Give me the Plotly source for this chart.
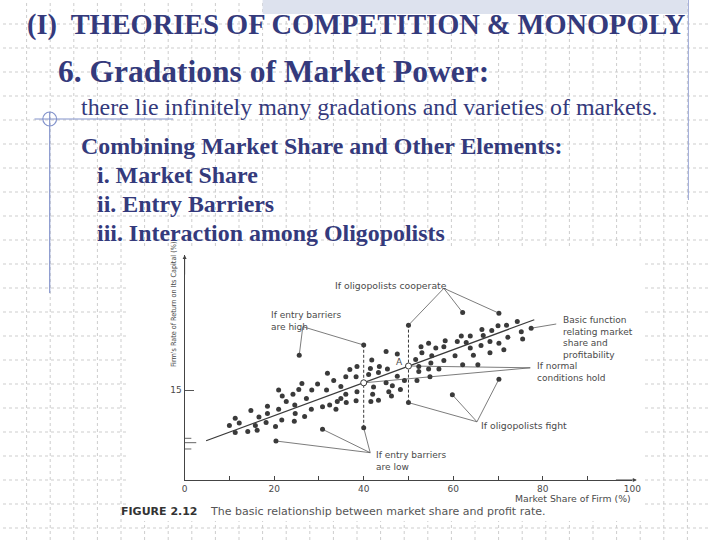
import plotly.graph_objects as go

# ---------------- data (market share %, rate of return %) ----------------
share = [11.3, 12.2, 10.0, 11.3, 14.1, 15.8, 16.2, 14.8, 16.6, 18.5,
         18.5, 18.2, 20.3, 21.0, 21.7, 21.0, 21.8, 22.7, 24.6, 24.7,
         24.5, 24.2, 25.5, 26.2, 26.8, 27.2, 28.3, 28.4, 29.7, 30.8,
         31.7, 31.9, 32.4, 33.3, 33.8, 34.1, 34.9, 34.9, 36.0, 36.0,
         36.1, 36.9, 38.5, 38.3, 38.5, 38.3,
         45.0, 47.5, 41.8, 52.8, 54.5, 56.1, 58.2, 57.9, 60.9, 61.8,
         63.8, 62.9, 63.8, 66.4, 68.6, 66.7, 68.2, 66.2, 53.0, 51.6,
         55.2, 60.4, 57.9, 64.5, 68.2, 41.5, 43.5, 45.3, 41.1, 43.3,
         52.3, 52.3, 54.5, 56.8, 55.0, 62.1, 65.5, 47.5, 45.0, 49.1,
         51.9, 54.8, 42.2, 46.4, 48.2, 45.6, 42.0, 46.2, 41.6, 43.3,
         74.3, 71.9, 70.0, 75.2, 77.4, 72.2, 75.5, 70.2, 71.3]
profit = [10.3, 9.5, 9.1, 7.9, 8.1, 9.1, 8.3, 11.6, 10.5, 12.3,
          11.1, 9.6, 8.9, 11.8, 10.0, 15.0, 14.0, 13.1, 12.5, 11.1,
          9.8, 14.3, 15.1, 16.1, 10.6, 13.6, 11.8, 15.0, 16.0, 12.2,
          15.0, 17.8, 12.5, 16.6, 11.8, 13.1, 15.6, 13.6, 17.2, 14.3,
          12.9, 18.4, 18.9, 17.2, 14.7, 13.2,
          21.4, 21.0, 20.0, 22.2, 22.8, 22.0, 23.2, 22.2, 23.1, 24.0,
          24.0, 22.9, 22.0, 25.1, 24.9, 24.1, 23.1, 22.4, 21.2, 20.1,
          20.7, 20.7, 19.9, 20.8, 21.2, 18.6, 18.9, 18.5, 17.6, 17.9,
          18.9, 18.1, 18.5, 18.5, 19.5, 19.2, 19.2, 17.3, 16.2, 16.6,
          16.6, 17.2, 15.5, 15.7, 15.1, 14.7, 14.3, 14.0, 13.1, 13.3,
          26.4, 25.8, 25.7, 24.7, 25.3, 23.8, 23.5, 22.8, 21.7]

basic_x = [4.8, 78.1]
basic_y = [6.55, 26.7]

open_x = [40, 50]
open_y = [16.2, 19.0]

high_x, high_y = [25.6, 40], [20.8, 22.5]
low_x, low_y = [40, 30.8, 20.4], [8.7, 8.45, 6.5]
coop_x, coop_y = [50, 62.1, 70.2], [25.8, 27.9, 27.8]
fight_x, fight_y = [50, 59.8, 70.2], [12.9, 14.2, 16.8]

high_hub = (26.4, 25.55)
low_hub = (41.45, 4.55)
coop_hub = (57.9, 31.95)
fight_hub = (65.3, 9.7)
normal_hub = (77.2, 18.7)
basic_leader_x = [77.4, 83.0]
basic_leader_y = [25.3, 26.0]

dash_x = [40, 50]
dash_lo = [8.7, 12.9]
dash_hi = [22.5, 25.8]

comp_marks_y = [6.95, 6.22, 5.17]
comp_marks_len = [1.5, 2.6, 1.5]

x_ticks = [0, 10, 20, 30, 40, 50, 60, 70, 80, 90, 100]
x_ticktext = ["0", "", "20", "", "40", "", "60", "", "80", "", "100"]
y_ticks = [15]
y_ticktext = ["15"]

# ---------------- layout helpers (pixel -> paper) ----------------
W, H = 720, 540
def px(x):
    return x / W
def py(y):
    return 1 - y / H

NAVY = "#343a7c"
INK = "#3a3a3a"
LEAD = "#5a5a5a"
CH_FONT = "DejaVu Sans, Liberation Sans, sans-serif"

fig = go.Figure()

def leaders(hub, xs, ys):
    lx, ly = [], []
    for x, y in zip(xs, ys):
        lx += [hub[0], x, None]
        ly += [hub[1], y, None]
    return lx, ly

# leader lines
all_lx, all_ly = [], []
for hub, xs, ys in [(high_hub, high_x, high_y), (low_hub, low_x, low_y),
                    (coop_hub, coop_x, coop_y), (fight_hub, fight_x, fight_y),
                    (normal_hub, open_x, open_y)]:
    a, b = leaders(hub, xs, ys)
    all_lx += a
    all_ly += b
all_lx += basic_leader_x + [None]
all_ly += basic_leader_y + [None]
fig.add_trace(go.Scatter(x=all_lx, y=all_ly, mode="lines",
                         line=dict(color=LEAD, width=0.8), hoverinfo="skip"))

# dashed verticals
dx, dy = [], []
for x, lo, hi in zip(dash_x, dash_lo, dash_hi):
    dx += [x, x, None]
    dy += [lo, hi, None]
fig.add_trace(go.Scatter(x=dx, y=dy, mode="lines",
                         line=dict(color=INK, width=1, dash="3px,2px")))

# competitive rate marks
cx, cy = [], []
for y, l in zip(comp_marks_y, comp_marks_len):
    cx += [0, l, None]
    cy += [y, y, None]
fig.add_trace(go.Scatter(x=cx, y=cy, mode="lines",
                         line=dict(color="#666", width=1)))

# basic function line
fig.add_trace(go.Scatter(x=basic_x, y=basic_y, mode="lines",
                         line=dict(color=INK, width=1.2)))

# scatter of firms
fig.add_trace(go.Scatter(x=share, y=profit, mode="markers",
                         marker=dict(size=5, color=INK), cliponaxis=False))
# special points
fig.add_trace(go.Scatter(x=high_x + low_x + coop_x + fight_x,
                         y=high_y + low_y + coop_y + fight_y, mode="markers",
                         marker=dict(size=5, color=INK), cliponaxis=False))
# open circles
fig.add_trace(go.Scatter(x=open_x, y=open_y, mode="markers",
                         marker=dict(size=6, color="white",
                                     line=dict(color=INK, width=1)),
                         cliponaxis=False))

# ---------------- background decoration ----------------
shapes = []
for gx in range(24, 720, 24):
    shapes.append(dict(type="line", xref="paper", yref="paper",
                       x0=px(gx), x1=px(gx), y0=0, y1=1, layer="below",
                       line=dict(color="#cdcdcd", width=1, dash="dot")))
for gy in range(24, 540, 24):
    shapes.append(dict(type="line", xref="paper", yref="paper",
                       x0=0, x1=1, y0=py(gy), y1=py(gy), layer="below",
                       line=dict(color="#cdcdcd", width=1, dash="dot")))
# white picture area
shapes.append(dict(type="rect", xref="paper", yref="paper",
                   x0=px(128), x1=px(651), y0=py(521), y1=py(247),
                   layer="below", fillcolor="white", line=dict(width=0)))
# top band
shapes.append(dict(type="rect", xref="paper", yref="paper",
                   x0=px(264), x1=px(696), y0=py(14), y1=py(0),
                   layer="below", fillcolor="#dde2ee", line=dict(width=0)))
BLUE = "#8494cc"
shapes.append(dict(type="line", xref="paper", yref="paper",
                   x0=px(697), x1=px(697), y0=py(0), y1=py(200),
                   line=dict(color="#9aa7d6", width=1)))
shapes.append(dict(type="line", xref="paper", yref="paper",
                   x0=px(47.5), x1=px(47.5), y0=py(112), y1=py(293),
                   line=dict(color=BLUE, width=1.2)))
shapes.append(dict(type="line", xref="paper", yref="paper",
                   x0=px(32), x1=px(173), y0=py(119), y1=py(119),
                   line=dict(color=BLUE, width=1.2)))
shapes.append(dict(type="circle", xref="paper", yref="paper",
                   x0=px(40.5), x1=px(54.5), y0=py(126), y1=py(112),
                   line=dict(color=BLUE, width=1.2)))

# ---------------- annotations ----------------
ann = []
def slide_text(x, y, text, size, bold=False):
    ann.append(dict(xref="paper", yref="paper", x=px(x), y=py(y), text=text,
                    showarrow=False, xanchor="left", yanchor="middle",
                    font=dict(family="Liberation Serif, Times New Roman, serif",
                              size=size, color=NAVY,
                              weight="bold" if bold else "normal")))

slide_text(22, 25, "(I)  THEORIES OF COMPETITION &amp; MONOPOLY", 28.4, True)
slide_text(54, 72, "6. Gradations of Market Power:", 31.5, True)
slide_text(77, 107, "there lie infinitely many gradations and varieties of markets.", 23.9)
slide_text(77, 146, "Combining Market Share and Other Elements:", 23.9, True)
slide_text(94, 175, "i. Market Share", 23.9, True)
slide_text(94, 204, "ii. Entry Barriers", 23.9, True)
slide_text(94, 233, "iii. Interaction among Oligopolists", 23.9, True)

def chart_text(x, y, text, size=9, xanchor="left"):
    ann.append(dict(xref="x", yref="y", x=x, y=y, text=text,
                    showarrow=False, xanchor=xanchor, yanchor="middle",
                    align="left",
                    font=dict(family=CH_FONT, size=size, color="#4a4a4a")))

chart_text(33.2, 32.5, "If oligopolists cooperate", size=9.3)
chart_text(18.8, 26.5, "If entry barriers<br>are high")
chart_text(42.2, 3.2, "If entry barriers<br>are low")
chart_text(65.7, 9.05, "If oligopolists fight", size=9.3)
chart_text(78.2, 17.97, "If normal<br>conditions hold")
chart_text(84.0, 23.75, "Basic function<br>relating market<br>share and<br>profitability")
chart_text(-15.2, 8.8, "Competitive<br>rate of return")
chart_text(47.9, 19.6, "A", size=9, xanchor="center")

# competitive rate leader (outside plot area)
ann.append(dict(xref="x", yref="y", axref="x", ayref="y", x=-1.0, y=6.2,
                ax=-8.0, ay=7.33, text="", showarrow=True, arrowhead=0,
                arrowwidth=0.8, arrowcolor=LEAD))
# axis arrowheads
ann.append(dict(xref="x", yref="y", axref="x", ayref="y", x=101, y=0,
                ax=96, ay=0, text="", showarrow=True, arrowhead=2,
                arrowsize=0.8, arrowwidth=1, arrowcolor="#444"))
ann.append(dict(xref="x", yref="y", axref="x", ayref="y", x=0, y=37.5,
                ax=0, ay=34, text="", showarrow=True, arrowhead=2,
                arrowsize=0.8, arrowwidth=1, arrowcolor="#444"))

# axis titles
ann.append(dict(xref="paper", yref="paper", x=px(641), y=py(498),
                text="Market Share of Firm (%)", showarrow=False,
                xanchor="right", yanchor="middle",
                font=dict(family=CH_FONT, size=9.3, color="#4a4a4a")))
ann.append(dict(xref="paper", yref="paper", x=px(173), y=py(304),
                text="Firm's Rate of Return on Its Capital (%)", showarrow=False,
                textangle=-90, xanchor="center", yanchor="middle",
                font=dict(family="DejaVu Sans Condensed, Liberation Sans Narrow, DejaVu Sans, sans-serif",
                          size=7.2, color="#4a4a4a")))
# caption
ann.append(dict(xref="paper", yref="paper", x=px(118), y=py(511),
                text="FIGURE 2.12", showarrow=False, xanchor="left",
                yanchor="middle",
                font=dict(family=CH_FONT, size=11, color="#333",
                          weight="bold")))
ann.append(dict(xref="paper", yref="paper", x=px(208), y=py(511),
                text="The basic relationship between market share and profit rate.",
                showarrow=False, xanchor="left", yanchor="middle",
                font=dict(family=CH_FONT, size=11, color="#555")))

fig.update_layout(
    width=W, height=H, margin=dict(l=0, r=0, t=0, b=0),
    paper_bgcolor="white", plot_bgcolor="rgba(0,0,0,0)",
    showlegend=False, shapes=shapes, annotations=ann,
    xaxis=dict(domain=[px(184.7), px(640)], range=[0, 100],
               showgrid=False, zeroline=False, showline=True,
               linecolor="#444", linewidth=1, ticks="inside", ticklen=4,
               tickcolor="#444", tickvals=x_ticks, ticktext=x_ticktext,
               tickfont=dict(family=CH_FONT, size=9, color="#4a4a4a")),
    yaxis=dict(domain=[py(480), py(255)], range=[0, 37.5],
               showgrid=False, zeroline=False, showline=True,
               linecolor="#444", linewidth=1, ticks="inside", ticklen=9,
               tickcolor="#555", tickvals=y_ticks, ticktext=y_ticktext,
               tickfont=dict(family=CH_FONT, size=9, color="#4a4a4a")),
)

fig.write_html("out.html", config={"displayModeBar": False},
               post_script="document.body.style.margin='0';")
